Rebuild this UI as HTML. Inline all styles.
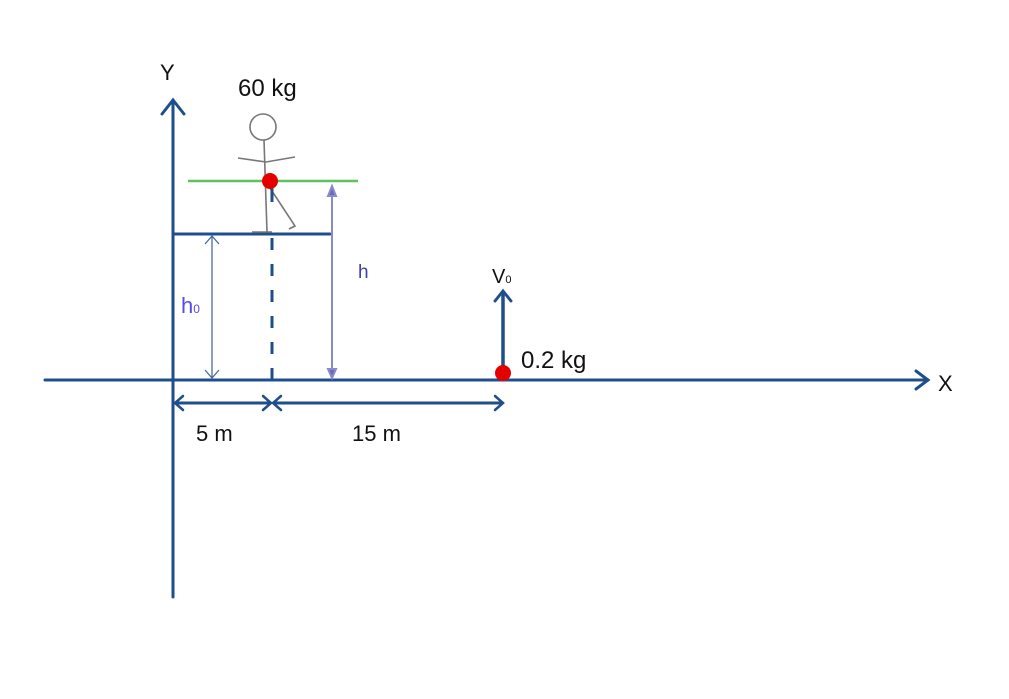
<!DOCTYPE html>
<html><head><meta charset="utf-8"><style>
html,body{margin:0;padding:0;background:#fff;}
svg{display:block;}
text{font-family:"Liberation Sans",sans-serif;}
</style></head><body>
<svg width="1009" height="699" viewBox="0 0 1009 699" xmlns="http://www.w3.org/2000/svg">
<g stroke="#1f4e8c" fill="none" stroke-linecap="round">
  <!-- Y axis -->
  <line x1="173" y1="100" x2="173" y2="597" stroke-width="3"/>
  <polyline points="162,114 173,100 184,114" stroke-width="3"/>
  <!-- X axis -->
  <line x1="45" y1="380" x2="928" y2="380" stroke-width="3"/>
  <polyline points="916,371 928,380 916,389" stroke-width="3"/>
  <!-- platform -->
  <line x1="173" y1="234" x2="330" y2="234" stroke-width="3"/>
  <!-- dashed -->
  <line x1="272" y1="238" x2="272" y2="380" stroke-width="3" stroke-dasharray="12,14" stroke-linecap="butt"/>
  <!-- dimension lines -->
  <line x1="175" y1="403" x2="270" y2="403" stroke-width="3"/>
  <polyline points="183,396 175,403 183,410" stroke-width="2.5"/>
  <polyline points="263,396 271,403 263,410" stroke-width="2.5"/>
  <line x1="274" y1="403" x2="502" y2="403" stroke-width="3"/>
  <polyline points="281,396 273,403 281,410" stroke-width="2.5"/>
  <polyline points="495,396 503,403 495,410" stroke-width="2.5"/>
  <!-- V0 arrow -->
  <line x1="503" y1="372" x2="503" y2="292" stroke-width="3.5"/>
  <polyline points="495,301 503,291 511,301" stroke-width="3"/>
</g>
<!-- h0 arrow -->
<g stroke="#4a6aa0" fill="none" stroke-width="1.3">
  <line x1="212" y1="236" x2="212" y2="378"/>
  <polyline points="205,244 212,236 219,244"/>
  <polyline points="205,370 212,378 219,370"/>
</g>
<!-- h arrow -->
<g stroke="#8a8ac8" stroke-width="2">
  <line x1="332" y1="186" x2="332" y2="378"/>
  <polygon points="328,196 332,186 336,196" fill="#6a6ab8"/>
  <polygon points="328,369 332,378 336,369" fill="#6a6ab8"/>
</g>
<!-- green line -->
<line x1="188" y1="181" x2="358" y2="181" stroke="#5cc45c" stroke-width="2.5"/>
<!-- stick figure -->
<g stroke="#777" stroke-width="1.6" fill="none">
  <circle cx="263" cy="127" r="13" fill="#fff"/>
  <line x1="264" y1="140" x2="267" y2="232"/>
  <polyline points="238,158 266,162 295,157"/>
  <polyline points="270,188 295,226 289,229"/>
  <line x1="252" y1="232" x2="272" y2="232"/>
</g>
<line x1="272" y1="184" x2="272" y2="202" stroke="#1f4e8c" stroke-width="3"/>
<circle cx="270" cy="181" r="8" fill="#e50000"/>
<circle cx="503" cy="373" r="8" fill="#e50000"/>
<!-- labels -->
<text x="160" y="80" font-size="22" fill="#111">Y</text>
<text x="238" y="96" font-size="24" fill="#111">60 kg</text>
<text x="938" y="391" font-size="22" fill="#111">X</text>
<text x="181" y="313" font-size="22" fill="#5a4ae6">h<tspan font-size="12">0</tspan></text>
<text x="358" y="278" font-size="19" fill="#4040a0" font-family="Liberation Serif,serif">h</text>
<text x="492" y="283" font-size="20" fill="#111">V<tspan font-size="11">0</tspan></text>
<text x="521" y="368" font-size="24" fill="#111">0.2 kg</text>
<text x="196" y="441" font-size="22" fill="#111">5 m</text>
<text x="352" y="441" font-size="22" fill="#111">15 m</text>
</svg>
</body></html>
